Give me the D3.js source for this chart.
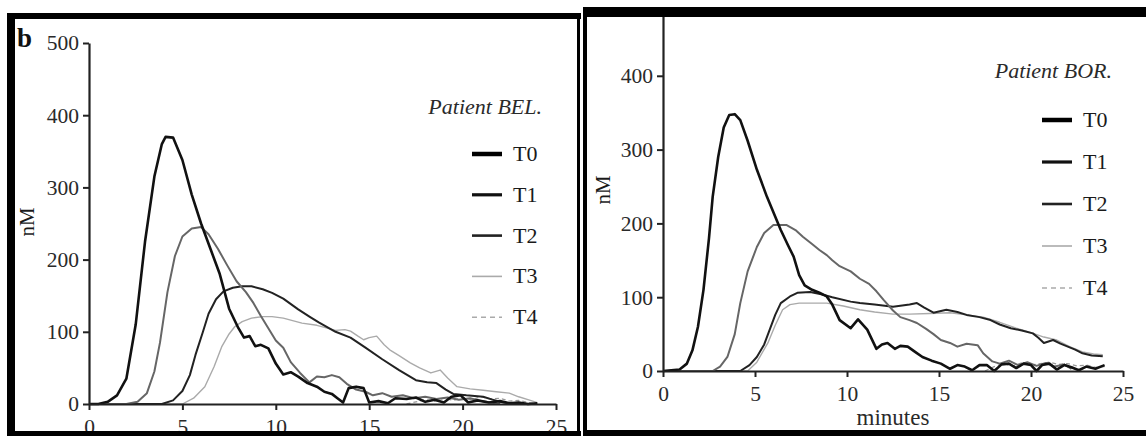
<!DOCTYPE html>
<html><head><meta charset="utf-8">
<script src="https://cdn.jsdelivr.net/npm/d3@7"></script>
<style>html,body{margin:0;padding:0;background:#fff;}svg{display:block;}
svg text{font-family:"Liberation Serif","DejaVu Serif","Times New Roman",serif !important;}</style>
</head><body>
<svg id="chart" width="1146" height="436"></svg>
<script>
// ---------- DATA ----------
const xTicks = [0, 5, 10, 15, 20, 25];
const yTicksLeft = [0, 100, 200, 300, 400, 500];
const yTicksRight = [0, 100, 200, 300, 400];
const seriesNames = ["T0", "T1", "T2", "T3", "T4"];

// Patient BEL. — [minutes, nM]
const BEL_T0 = [[0,0],[0.5,0],[1,3],[1.5,12],[2,35],[2.5,110],[3,225],[3.5,315],[3.9,360],[4.1,370],[4.5,369],[5,338],[5.5,290],[6,250],[6.5,215],[7,180],[7.5,132],[8,105],[8.3,92],[8.6,94],[8.9,80],[9.2,82],[9.6,77],[10,56],[10.4,41],[10.8,44],[11.2,38],[11.7,29],[12.2,24],[12.6,17],[13,14],[13.3,8],[13.6,2],[13.9,22],[14.3,24],[14.7,22],[15,2],[15.5,4],[16,1],[16.4,8],[17,7],[17.5,9],[18,3],[18.5,6],[19,2],[19.4,10],[19.9,12],[20.3,2],[20.8,5],[21.4,2],[22,4],[22.5,1],[23,2],[23.5,0],[24,1]];
const BEL_T1 = [[0,0],[2,0],[2.6,3],[3.1,15],[3.5,45],[3.8,85],[4.2,155],[4.6,205],[5,232],[5.5,243],[6,245],[6.4,235],[6.9,215],[7.4,192],[7.9,170],[8.4,155],[8.8,140],[9.2,122],[9.6,105],[10,88],[10.4,78],[10.8,58],[11.3,43],[11.8,30],[12.2,38],[12.6,37],[13,40],[13.4,37],[13.8,28],[14.3,20],[14.8,17],[15.2,12],[15.7,15],[16.2,10],[16.8,12],[17.4,8],[18,10],[18.6,7],[19.2,9],[19.8,6],[20.4,8],[21,4],[21.5,2],[22,0]];
const BEL_T2 = [[0,0],[3.9,0],[4.5,5],[5,18],[5.4,40],[5.7,68],[6.1,100],[6.4,125],[6.8,145],[7.2,156],[7.7,161],[8.2,163],[8.7,163],[9.3,159],[9.8,154],[10.4,146],[11.2,131],[11.8,121],[12.3,113],[13.2,100],[14,92],[14.8,78],[15.7,62],[16.6,47],[17.5,33],[18.1,30],[18.6,29],[19.1,20],[19.5,14],[20.2,12],[21.1,10],[21.6,6],[22,3],[22.5,1],[23,0]];
const BEL_T3 = [[0,0],[5,0],[5.6,8],[6.2,24],[6.7,52],[7.1,79],[7.5,97],[7.8,107],[8.2,114],[8.7,119],[9.3,121],[9.8,121],[10.4,119],[11.4,112],[12.2,109],[13.2,102],[13.7,103],[14,101],[14.4,94],[14.7,89],[15,92],[15.4,94],[15.8,82],[16.1,75],[16.6,67],[17.2,57],[17.7,50],[18.3,43],[18.8,47],[19.2,36],[19.7,24],[20.4,21],[21.1,19],[21.8,17],[22.5,15],[23,10],[23.5,6],[24,2]];
const BEL_T4 = [[17,0],[17.5,3],[18,6],[18.5,4],[19,8],[19.5,5],[20,9],[20.5,6],[21,10],[21.5,7],[22,8],[22.5,4],[23,5],[23.5,2],[24,0]];

// Patient BOR.
const BOR_T0 = [[0,0],[0.9,2],[1.3,10],[1.6,28],[1.9,60],[2.2,110],[2.5,180],[2.7,236],[3,290],[3.3,330],[3.6,347],[3.9,348],[4.2,340],[4.6,312],[5.1,273],[5.65,236],[6,215],[6.4,191],[6.8,170],[7.1,155],[7.4,130],[7.7,116],[8.1,110],[8.5,106],[8.9,101],[9.2,90],[9.6,69],[10.2,58],[10.6,70],[11.1,56],[11.6,30],[11.9,36],[12.2,38],[12.6,30],[12.9,34],[13.3,33],[13.7,26],[14.1,19],[14.6,14],[15.1,10],[15.6,3],[16,8],[16.4,6],[16.8,1],[17.2,8],[17.6,8],[18,0],[18.4,9],[18.8,10],[19.2,4],[19.6,10],[20,8],[20.3,0],[20.6,8],[21,10],[21.4,2],[21.8,8],[22.2,5],[22.6,1],[23,6],[23.5,3],[24,8]];
const BOR_T1 = [[0,0],[2.7,0],[3.1,6],[3.5,19],[3.9,50],[4.2,92],[4.6,135],[5.1,168],[5.5,187],[6,198],[6.7,198],[7.2,191],[7.6,182],[8.1,172],[8.5,164],[8.9,157],[9.2,150],[9.6,142],[10.2,135],[10.7,125],[11.2,118],[11.6,108],[12,96],[12.5,82],[12.9,73],[13.4,69],[13.8,65],[14.3,57],[14.7,50],[15.1,42],[15.6,38],[16,33],[16.5,37],[17.1,35],[17.4,24],[17.9,13],[18.3,10],[18.8,14],[19.3,8],[19.8,12],[20.3,7],[20.8,11],[21.3,6],[21.8,9],[22.2,3]];
const BOR_T2 = [[0,0],[4.2,0],[4.7,8],[5.1,19],[5.5,36],[5.8,56],[6.1,76],[6.4,92],[6.9,101],[7.3,106],[8,107],[8.6,104],[9.2,100],[10.2,94],[10.7,92],[11.5,90],[12.5,87],[13.4,90],[13.8,92],[14.2,86],[14.7,79],[15.4,83],[16,80],[16.5,76],[17.2,73],[17.8,69],[18.3,63],[18.9,58],[19.5,55],[20.1,51],[20.4,45],[20.7,38],[21.2,42],[21.6,37],[22,33],[22.4,29],[22.8,24],[23.3,21],[23.9,20]];
const BOR_T3 = [[0,0],[4.6,0],[5.1,12],[5.7,38],[6.1,62],[6.5,83],[6.9,90],[7.4,92],[8.2,92],[8.9,92],[9.8,88],[10.7,83],[11.5,80],[12.5,77],[13.4,77],[14.5,78],[15.6,79],[16.5,76],[17.4,73],[18.3,66],[19.2,58],[20,52],[20.7,46],[21.4,42],[22.1,33],[22.8,26],[23.4,23],[23.9,22]];
const BOR_T4 = [[17.5,0],[18,6],[18.5,10],[19,7],[19.5,11],[20,8],[20.5,10],[21,12],[21.5,9],[22,10],[22.5,7],[23,8],[23.5,5],[24,6]];

// ---------- STYLES ----------
const curveStyle = {
  T0: {stroke:"#111", width:2.6, dash:null},
  T1: {stroke:"#666", width:2.0, dash:null},
  T2: {stroke:"#222", width:2.0, dash:null},
  T3: {stroke:"#aaa", width:1.4, dash:null},
  T4: {stroke:"#999", width:1.3, dash:"4,3"}
};
const legendStyle = {
  T0: {stroke:"#000", width:4.5, dash:null},
  T1: {stroke:"#111", width:3.2, dash:null},
  T2: {stroke:"#222", width:2.6, dash:null},
  T3: {stroke:"#aaa", width:1.6, dash:null},
  T4: {stroke:"#aaa", width:1.6, dash:"5,4"}
};
const FONT = "Liberation Serif";
const svg = d3.select("#chart");

function panel(cfg) {
  const x = d3.scaleLinear().domain([0, 25]).range(cfg.xr);
  const y = d3.scaleLinear().domain([0, 500]).range(cfg.yr);
  const g = svg.append("g");

  const line = d3.line().x(d => x(d[0])).y(d => y(d[1]));
  ["T4","T3","T2","T1","T0"].forEach(k => {
    const st = curveStyle[k];
    g.append("path").datum(cfg.data[k])
      .attr("d", line).attr("fill","none")
      .attr("stroke", st.stroke).attr("stroke-width", st.width)
      .attr("stroke-dasharray", st.dash)
      .attr("stroke-linejoin","round");
  });

  const yAx = g.append("g").attr("transform", `translate(${cfg.xr[0]},0)`)
    .call(d3.axisLeft(y).tickValues(cfg.yTicks).tickSize(6).tickSizeOuter(0).tickPadding(4));
  const xAx = g.append("g").attr("transform", `translate(0,${cfg.yr[0]})`)
    .call(d3.axisBottom(x).tickValues(xTicks).tickSize(6).tickSizeOuter(0).tickPadding(9));
  [yAx, xAx].forEach(a => {
    a.attr("font-family", FONT);
    a.select(".domain").attr("stroke","#222").attr("stroke-width",2.2);
    a.selectAll(".tick line").attr("stroke","#222").attr("stroke-width",2);
    a.selectAll(".tick text").style("font-family",FONT).attr("font-size",21.5).attr("fill","#2a2a2a");
  });

  g.append("text").attr("transform", `translate(${cfg.nmX},${cfg.nmY}) rotate(-90)`)
    .attr("text-anchor","middle").style("font-family",FONT).attr("font-size",21)
    .attr("fill","#1a1a1a").text("nM");

  g.append("text").attr("x", cfg.titleX).attr("y", cfg.titleY)
    .attr("text-anchor","end").style("font-family",FONT).attr("font-style","italic")
    .attr("font-size",22).attr("fill","#2a2a2a").text(cfg.title);

  seriesNames.forEach((k, i) => {
    const yy = cfg.legY0 + i * cfg.legDy;
    const st = legendStyle[k];
    g.append("line").attr("x1", cfg.legX).attr("x2", cfg.legX + 30)
      .attr("y1", yy).attr("y2", yy)
      .attr("stroke", st.stroke).attr("stroke-width", st.width)
      .attr("stroke-dasharray", st.dash);
    g.append("text").attr("x", cfg.legX + 41).attr("y", yy + 7)
      .style("font-family",FONT).attr("font-size",22).attr("fill","#1a1a1a").text(k);
  });
}

panel({
  xr:[89,556], yr:[404,43], yTicks:yTicksLeft,
  data:{T0:BEL_T0,T1:BEL_T1,T2:BEL_T2,T3:BEL_T3,T4:BEL_T4},
  nmX:34, nmY:222, title:"Patient BEL.", titleX:542, titleY:114,
  legX:472, legY0:154, legDy:40.8
});
panel({
  xr:[663,1123], yr:[371,2], yTicks:yTicksRight,
  data:{T0:BOR_T0,T1:BOR_T1,T2:BOR_T2,T3:BOR_T3,T4:BOR_T4},
  nmX:610, nmY:190, title:"Patient BOR.", titleX:1112, titleY:78,
  legX:1042, legY0:120, legDy:42
});

svg.append("text").attr("x", 893).attr("y", 425).attr("text-anchor","middle")
  .style("font-family",FONT).attr("font-size",23).attr("fill","#2a2a2a").text("minutes");
svg.append("text").attr("x", 17).attr("y", 47)
  .style("font-family",FONT).attr("font-weight","bold").attr("font-size",27).attr("fill","#111").text("b");

// ---------- FRAMES ----------
svg.append("rect").attr("x",0).attr("y",0).attr("width",1146).attr("height",7).attr("fill","#fff");
const frame = svg.append("g").attr("fill","#000");
// left panel
frame.append("rect").attr("x",7).attr("y",13).attr("width",574).attr("height",6);
frame.append("rect").attr("x",7).attr("y",13).attr("width",8).attr("height",423);
frame.append("rect").attr("x",577).attr("y",13).attr("width",3).attr("height",423);
frame.append("rect").attr("x",7).attr("y",431).attr("width",574).attr("height",5);
// right panel
frame.append("rect").attr("x",583).attr("y",7).attr("width",563).attr("height",10);
frame.append("rect").attr("x",583).attr("y",7).attr("width",4).attr("height",429);
frame.append("rect").attr("x",583).attr("y",430).attr("width",563).attr("height",6);
</script>
</body></html>
